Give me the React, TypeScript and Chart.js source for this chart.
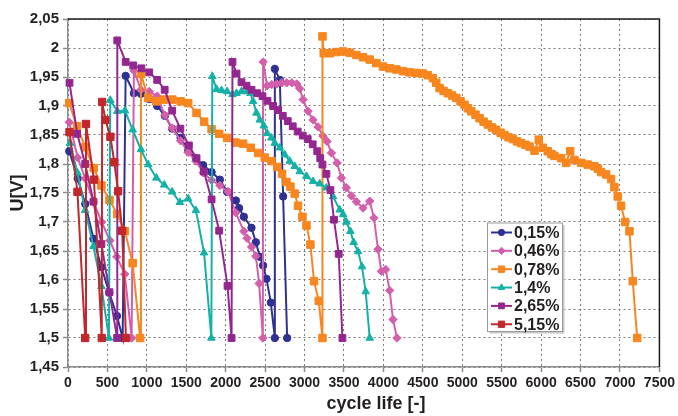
import { useEffect, useRef } from "react";
import { Chart, registerables } from "chart.js";
import { drawPoint } from "chart.js/helpers";

Chart.register(...registerables);

// Additive concentrations, one curve each
const seriesLabels = ["0,15%", "0,46%", "0,78%", "1,4%", "2,65%", "5,15%"];
const seriesColors = ["#2E3192", "#D35FAA", "#F7861E", "#14B1A7", "#93278F", "#C1272D"];
const seriesMarkers = ["circle", "rectRot", "rect", "triangle", "rect", "rect"];
const markerRadius = [3.7, 4.2, 5.3, 4.4, 4.8, 5.2];

// Cycle counts [-] and cell voltage U [V]
const cycles015 = [16, 123, 219, 323, 424, 523, 621, 693, 731, 836, 925, 1030, 1131, 1229, 1321, 1428, 1524, 1622, 1714, 1821, 1926, 2018, 2129, 2170, 2230, 2327, 2382, 2433, 2474, 2517, 2572, 2623, 2623, 2686, 2728, 2779];
const volts015 = [1.822, 1.775, 1.731, 1.671, 1.622, 1.578, 1.538, 1.5, 1.952, 1.922, 1.921, 1.912, 1.9, 1.883, 1.861, 1.845, 1.823, 1.81, 1.798, 1.786, 1.773, 1.752, 1.737, 1.724, 1.709, 1.69, 1.665, 1.64, 1.625, 1.602, 1.561, 1.5, 1.964, 1.945, 1.744, 1.5];

const cycles046 = [16, 123, 219, 323, 427, 532, 618, 720, 807, 836, 925, 1030, 1131, 1229, 1321, 1428, 1524, 1622, 1714, 1821, 1926, 2031, 2128, 2230, 2271, 2327, 2382, 2424, 2471, 2474, 2525, 2584, 2648, 2711, 2774, 2838, 2901, 2939, 2981, 3044, 3108, 3171, 3234, 3285, 3341, 3412, 3467, 3530, 3594, 3657, 3741, 3826, 3880, 3931, 3974, 4029, 4079, 4121, 4172];
const volts046 = [1.872, 1.811, 1.775, 1.735, 1.7, 1.668, 1.64, 1.61, 1.5, 1.961, 1.928, 1.925, 1.917, 1.884, 1.862, 1.84, 1.82, 1.805, 1.785, 1.772, 1.763, 1.752, 1.716, 1.684, 1.672, 1.657, 1.641, 1.594, 1.5, 1.976, 1.935, 1.937, 1.938, 1.94, 1.94, 1.94, 1.938, 1.93, 1.911, 1.891, 1.876, 1.864, 1.848, 1.839, 1.819, 1.802, 1.776, 1.759, 1.745, 1.735, 1.724, 1.736, 1.707, 1.653, 1.615, 1.618, 1.582, 1.532, 1.5];

const cycles078 = [16, 114, 219, 326, 424, 526, 623, 722, 820, 915, 925, 1017, 1119, 1220, 1324, 1428, 1524, 1630, 1727, 1821, 1917, 2018, 2124, 2221, 2318, 2411, 2495, 2580, 2654, 2715, 2770, 2821, 2875, 2917, 2973, 3024, 3074, 3120, 3180, 3227, 3227, 3243, 3319, 3404, 3487, 3572, 3657, 3741, 3826, 3910, 3994, 4079, 4164, 4248, 4332, 4417, 4501, 4564, 4627, 4670, 4712, 4763, 4818, 4871, 4924, 4978, 5029, 5071, 5114, 5168, 5219, 5270, 5324, 5378, 5430, 5485, 5536, 5587, 5641, 5694, 5747, 5802, 5853, 5916, 5970, 6021, 6084, 6131, 6169, 6254, 6317, 6368, 6422, 6507, 6591, 6676, 6720, 6761, 6824, 6887, 6929, 6971, 7014, 7065, 7120, 7162, 7218];
const volts078 = [1.905, 1.865, 1.829, 1.793, 1.763, 1.738, 1.714, 1.684, 1.629, 1.5, 1.955, 1.914, 1.908, 1.911, 1.911, 1.908, 1.905, 1.888, 1.873, 1.86, 1.852, 1.845, 1.837, 1.835, 1.828, 1.819, 1.811, 1.805, 1.795, 1.783, 1.769, 1.761, 1.749, 1.728, 1.709, 1.694, 1.661, 1.598, 1.564, 1.5, 2.02, 1.991, 1.991, 1.993, 1.994, 1.992, 1.988, 1.984, 1.98, 1.974, 1.968, 1.965, 1.963, 1.96, 1.958, 1.957, 1.956, 1.953, 1.948, 1.94, 1.931, 1.926, 1.922, 1.918, 1.914, 1.908, 1.902, 1.896, 1.891, 1.885, 1.879, 1.873, 1.868, 1.863, 1.859, 1.854, 1.85, 1.846, 1.843, 1.839, 1.836, 1.833, 1.83, 1.823, 1.842, 1.828, 1.822, 1.817, 1.814, 1.81, 1.802, 1.822, 1.807, 1.802, 1.799, 1.796, 1.792, 1.786, 1.782, 1.774, 1.76, 1.744, 1.728, 1.7, 1.684, 1.598, 1.5];

const cycles14 = [25, 120, 218, 323, 424, 519, 536, 625, 722, 820, 925, 1017, 1121, 1220, 1321, 1419, 1524, 1622, 1725, 1818, 1830, 1884, 1947, 2018, 2086, 2137, 2200, 2271, 2314, 2347, 2390, 2432, 2483, 2525, 2580, 2622, 2686, 2749, 2812, 2876, 2939, 3024, 3108, 3192, 3277, 3361, 3446, 3488, 3530, 3581, 3623, 3678, 3728, 3775, 3826];
const volts14 = [1.836, 1.785, 1.72, 1.658, 1.589, 1.5, 1.91, 1.891, 1.892, 1.859, 1.825, 1.799, 1.776, 1.764, 1.752, 1.734, 1.74, 1.72, 1.647, 1.5, 1.951, 1.929, 1.927, 1.925, 1.92, 1.922, 1.925, 1.925, 1.922, 1.908, 1.888, 1.876, 1.866, 1.853, 1.845, 1.836, 1.828, 1.816, 1.805, 1.796, 1.787, 1.779, 1.77, 1.766, 1.759, 1.744, 1.721, 1.713, 1.7, 1.684, 1.665, 1.649, 1.623, 1.58, 1.5];

const cycles265 = [19, 117, 218, 323, 424, 526, 623, 625, 731, 827, 931, 1030, 1131, 1226, 1321, 1425, 1533, 1630, 1723, 1821, 1917, 2023, 2074, 2086, 2137, 2200, 2264, 2327, 2398, 2466, 2530, 2601, 2664, 2724, 2787, 2850, 2913, 2977, 3040, 3103, 3161, 3199, 3227, 3277, 3328, 3373, 3433, 3480];
const volts265 = [1.94, 1.852, 1.8, 1.735, 1.662, 1.579, 1.5, 2.013, 1.976, 1.97, 1.965, 1.958, 1.945, 1.928, 1.892, 1.861, 1.832, 1.81, 1.787, 1.739, 1.685, 1.59, 1.5, 1.976, 1.956, 1.941, 1.935, 1.928, 1.922, 1.917, 1.909, 1.9, 1.893, 1.883, 1.874, 1.865, 1.856, 1.849, 1.843, 1.834, 1.822, 1.81, 1.799, 1.783, 1.755, 1.704, 1.645, 1.5];

const cycles515 = [19, 120, 218, 228, 329, 428, 433, 475, 538, 587, 636, 687, 735];
const volts515 = [1.855, 1.752, 1.5, 1.869, 1.773, 1.5, 1.907, 1.876, 1.847, 1.803, 1.753, 1.685, 1.5];

const seriesCycles = [cycles015, cycles046, cycles078, cycles14, cycles265, cycles515];
const seriesVolts = [volts015, volts046, volts078, volts14, volts265, volts515];

// Axis ranges and titles
const xMin = 0;
const xMax = 7500;
const xStep = 500;
const yMin = 1.45;
const yMax = 2.05;
const yStep = 0.05;
const xTitle = "cycle life [-]";
const yTitle = "U[V]";

const FONT = '"Liberation Sans", Arial, Helvetica, sans-serif';
const INK = "#231F20";
const GRID = "#7a7a7a";
const AXIS = "#8c8c8c";

const overlayPlugin = {
  id: "frameTitlesLegend",
  afterDraw(chart: any) {
    const { ctx, chartArea: a } = chart;
    ctx.save();

    // dark frame on top and right
    ctx.strokeStyle = "#1b1b1b";
    ctx.lineWidth = 1.5;
    ctx.beginPath();
    ctx.moveTo(a.left, a.top);
    ctx.lineTo(a.right, a.top);
    ctx.lineTo(a.right, a.bottom);
    ctx.stroke();

    // axis titles
    ctx.fillStyle = INK;
    ctx.font = `bold 18px ${FONT}`;
    ctx.textAlign = "center";
    ctx.textBaseline = "middle";
    ctx.fillText(xTitle, 376, 404);
    ctx.save();
    ctx.translate(18, (a.top + a.bottom) / 2);
    ctx.rotate(-Math.PI / 2);
    ctx.fillText(yTitle, 0, 0);
    ctx.restore();

    // legend box
    const bx = 487.5, by = 223, bw = 75, bh = 108.5;
    ctx.fillStyle = "#c8c8c8";
    ctx.fillRect(bx + 2, by + 2, bw, bh);
    ctx.fillStyle = "#ffffff";
    ctx.fillRect(bx, by, bw, bh);
    ctx.strokeStyle = "#9a9a9a";
    ctx.lineWidth = 1;
    ctx.strokeRect(bx, by, bw, bh);

    ctx.font = `bold 16px ${FONT}`;
    ctx.textAlign = "left";
    ctx.textBaseline = "middle";
    seriesLabels.forEach((label, i) => {
      const y = 232.5 + i * 18.35;
      const c = seriesColors[i];
      ctx.strokeStyle = c;
      ctx.lineWidth = 2;
      ctx.beginPath();
      ctx.moveTo(491, y);
      ctx.lineTo(512, y);
      ctx.stroke();
      ctx.fillStyle = c;
      ctx.lineWidth = 1;
      drawPoint(ctx, { pointStyle: seriesMarkers[i], radius: markerRadius[i] * 0.85, rotation: 0, borderWidth: 1 } as any, 501.5, y);
      ctx.fillStyle = INK;
      ctx.fillText(label, 514, y + 1);
    });

    ctx.restore();
  },
};

export default function App() {
  const ref = useRef<HTMLCanvasElement | null>(null);

  useEffect(() => {
    document.body.style.margin = "0";
    const canvas = ref.current;
    if (!canvas) return;

    const datasets = seriesLabels.map((label, i) => ({
      label,
      data: seriesCycles[i].map((x, k) => ({ x, y: seriesVolts[i][k] })),
      showLine: true,
      borderColor: seriesColors[i],
      backgroundColor: seriesColors[i],
      borderWidth: 2,
      pointStyle: seriesMarkers[i],
      pointRadius: markerRadius[i],
      pointBorderWidth: 1,
      pointBorderColor: seriesColors[i],
      pointBackgroundColor: seriesColors[i],
      tension: 0,
      order: seriesLabels.length - i,
      clip: 10,
    }));

    const chart = new Chart(canvas, {
      type: "scatter",
      data: { datasets },
      plugins: [overlayPlugin],
      options: {
        animation: false,
        responsive: false,
        events: [],
        layout: { padding: { top: 19, right: 18, left: 0, bottom: 0 } },
        plugins: {
          legend: { display: false },
          tooltip: { enabled: false },
        },
        scales: {
          x: {
            type: "linear",
            min: xMin,
            max: xMax,
            afterFit: (s: any) => {
              s.height = 49;
            },
            ticks: {
              stepSize: xStep,
              autoSkip: false,
              maxRotation: 0,
              padding: 3,
              color: INK,
              font: { family: FONT, size: 14, weight: "bold" },
              callback: (v: any) => String(Math.round(Number(v))),
            },
            grid: {
              color: GRID,
              lineWidth: 1,
              drawTicks: true,
              tickLength: 5,
              tickColor: AXIS,
              tickWidth: 1.5,
            },
            border: { display: true, color: AXIS, width: 1.5, dash: [2, 3] },
          },
          y: {
            type: "linear",
            min: yMin,
            max: yMax,
            afterFit: (s: any) => {
              s.width = 68;
            },
            ticks: {
              stepSize: yStep,
              padding: 4,
              color: INK,
              font: { family: FONT, size: 15, weight: "bold" },
              callback: (v: any) => String(Math.round(Number(v) * 100) / 100).replace(".", ","),
            },
            grid: {
              color: GRID,
              lineWidth: 1,
              drawTicks: true,
              tickLength: 5,
              tickColor: AXIS,
              tickWidth: 1.5,
            },
            border: { display: true, color: AXIS, width: 1.5, dash: [2, 3] },
          },
        },
      } as any,
    });

    return () => chart.destroy();
  }, []);

  return (
    <div style={{ width: 678, height: 416, position: "relative", background: "#ffffff" }}>
      <canvas ref={ref} width={678} height={416} style={{ display: "block" }} />
    </div>
  );
}
